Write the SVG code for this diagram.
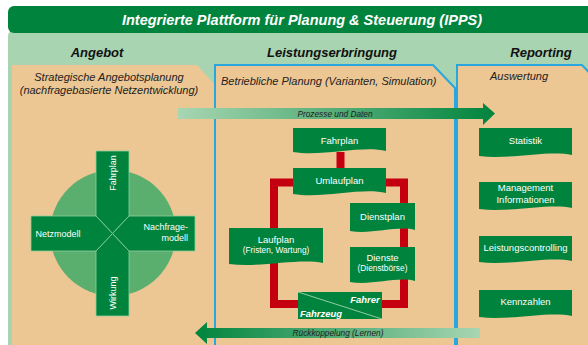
<svg xmlns="http://www.w3.org/2000/svg" width="588" height="345" viewBox="0 0 588 345">
<style>
text{font-family:"Liberation Sans",Arial,sans-serif}
.doc{fill:#00843d}
.wt{fill:#fff;font-size:9.5px;text-anchor:middle}
.ws{fill:#fff;font-size:8.3px;text-anchor:middle}
.rt{fill:#fff;font-size:9.5px;text-anchor:middle}
.hd{font-size:13px;font-weight:bold;font-style:italic;text-anchor:middle;fill:#111}
.sub{font-size:11px;font-style:italic;fill:#222}
.arm{fill:#00843d;stroke:#8fd0a0;stroke-width:0.8}
.red{fill:none;stroke:#c40010;stroke-width:8}
.ar{font-size:8.3px;font-style:italic;fill:#222;text-anchor:middle}
</style>
<defs>
<linearGradient id="gR" x1="0" x2="1" y1="0" y2="0"><stop offset="0" stop-color="#a8d6b2"/><stop offset="1" stop-color="#00843d"/></linearGradient>
<linearGradient id="gL" x1="0" x2="1" y1="0" y2="0"><stop offset="0" stop-color="#00843d"/><stop offset="1" stop-color="#a8d6b2"/></linearGradient>
</defs>
<rect width="588" height="345" fill="#fff"/>
<g id="background">
<rect x="8" y="30" width="600" height="330" rx="6" fill="#a9d4b1"/>
<rect x="8" y="6" width="600" height="27" rx="6" fill="#00843d"/>
<text x="302" y="25" font-size="14.5" font-weight="bold" font-style="italic" fill="#fff" text-anchor="middle">Integrierte Plattform für Planung &amp; Steuerung (IPPS)</text>
<text class="hd" x="97" y="57">Angebot</text>
<text class="hd" x="332" y="57">Leistungserbringung</text>
<text class="hd" x="541" y="57">Reporting</text>
</g>
<g id="panel-angebot">
<polygon points="12,65 197,65 217,87 217,350 12,350" fill="#ecc693"/>
<text class="sub" x="109" y="81" text-anchor="middle">Strategische Angebotsplanung</text>
<text class="sub" x="109" y="94" text-anchor="middle">(nachfragebasierte Netzentwicklung)</text>
</g>
<g id="panel-leistung">
<polygon points="215,65 433,65 455,88 455,350 215,350" fill="#ecc693" stroke="#2aa6df" stroke-width="2"/>
<text class="sub" x="221" y="85">Betriebliche Planung (Varianten, Simulation)</text>
</g>
<g id="panel-reporting">
<polygon points="457,65 582,65 602,86 602,350 457,350" fill="#ecc693" stroke="#2aa6df" stroke-width="2"/>
<text class="sub" x="519" y="80" text-anchor="middle">Auswertung</text>
</g>
<g id="modell-kreis">
<circle cx="113" cy="233" r="63" fill="#5aae6e"/>
<polygon class="arm" points="96,151 129,151 129,216 112.5,233.5 96,216"/>
<polygon class="arm" points="96,316 129,316 129,251 112.5,233.5 96,251"/>
<polygon class="arm" points="31,216 96,216 112.5,233.5 96,251 31,251"/>
<polygon class="arm" points="195,216 129,216 112.5,233.5 129,251 195,251"/>
<text x="0" y="0" font-size="9" fill="#fff" text-anchor="middle" transform="translate(116,173) rotate(-90)">Fahrplan</text>
<text x="0" y="0" font-size="9" fill="#fff" text-anchor="middle" transform="translate(116,293) rotate(-90)">Wirkung</text>
<text x="58" y="236.5" font-size="9" fill="#fff" text-anchor="middle">Netzmodell</text>
<text x="188" y="230" font-size="9" fill="#fff" text-anchor="end">Nachfrage-</text>
<text x="188" y="241" font-size="9" fill="#fff" text-anchor="end">modell</text>
</g>
<g id="connectors">
<path class="red" d="M293 182.5 H274 V304 H300"/>
<path class="red" d="M386 182.5 H404 V304 H380"/>
<path class="red" d="M340.5 152 V169" stroke-width="9"/>
<g id="arrow-prozesse">
<polygon points="178,108 483,108 483,103 495,113.5 483,125 483,119 178,119" fill="url(#gR)"/>
<text class="ar" x="335" y="116.5">Prozesse und Daten</text>
</g>
<g id="arrow-rueckkopplung">
<polygon points="480,328 207,328 207,322 195,333 207,344 207,338 480,338" fill="url(#gL)"/>
<text class="ar" x="338" y="336">Rückkoppelung (Lernen)</text>
</g>
</g>
<g id="fahrplan">
<path class="doc" d="M293 128 H386 V151 C362 145 323 157 293 152 Z"/>
<text class="wt" x="339.5" y="144">Fahrplan</text>
</g>
<g id="umlaufplan">
<path class="doc" d="M293 168 H386 V193 C362 187 323 199 293 194 Z"/>
<text class="wt" x="339.5" y="183.5">Umlaufplan</text>
</g>
<g id="dienstplan">
<path class="doc" d="M350 203 H415 V230 C398 225 371 235 350 231 Z"/>
<text class="wt" x="382.5" y="219.5">Dienstplan</text>
</g>
<g id="dienste">
<path class="doc" d="M350 247 H415 V281 C398 276 371 286 350 282 Z"/>
<text class="wt" x="382.5" y="260.5">Dienste</text>
<text class="ws" x="382.5" y="270.5">(Dienstbörse)</text>
</g>
<g id="laufplan">
<path class="doc" d="M229 228 H323 V263 C299 258 260 268 229 264 Z"/>
<text class="wt" x="276" y="242.5">Laufplan</text>
<text class="ws" x="276" y="253">(Fristen, Wartung)</text>
</g>
<g id="fahrzeug-fahrer">
<rect x="298" y="292" width="84" height="27" fill="#00843d"/>
<line x1="298" y1="292" x2="382" y2="319" stroke="#b5e0c0" stroke-width="0.8"/>
<text x="365" y="302.5" font-size="9.5" font-weight="bold" font-style="italic" fill="#fff" text-anchor="middle">Fahrer</text>
<text x="321" y="316.5" font-size="9.5" font-weight="bold" font-style="italic" fill="#fff" text-anchor="middle">Fahrzeug</text>
</g>
<g id="statistik">
<path class="doc" d="M479 128 H572 V155 C548 150 509 160 479 156 Z"/>
<text class="rt" x="525.5" y="143.5">Statistik</text>
</g>
<g id="management">
<path class="doc" d="M479 182 H572 V208 C548 203 509 213 479 209 Z"/>
<text class="rt" x="525.5" y="191">Management</text>
<text class="rt" x="525.5" y="202.5">Informationen</text>
</g>
<g id="leistungscontrolling">
<path class="doc" d="M479 236 H572 V261 C548 256 509 266 479 262 Z"/>
<text class="rt" x="525.5" y="250.5">Leistungscontrolling</text>
</g>
<g id="kennzahlen">
<path class="doc" d="M479 290 H572 V316 C548 311 509 321 479 317 Z"/>
<text class="rt" x="525.5" y="304.5">Kennzahlen</text>
</g>
</svg>
